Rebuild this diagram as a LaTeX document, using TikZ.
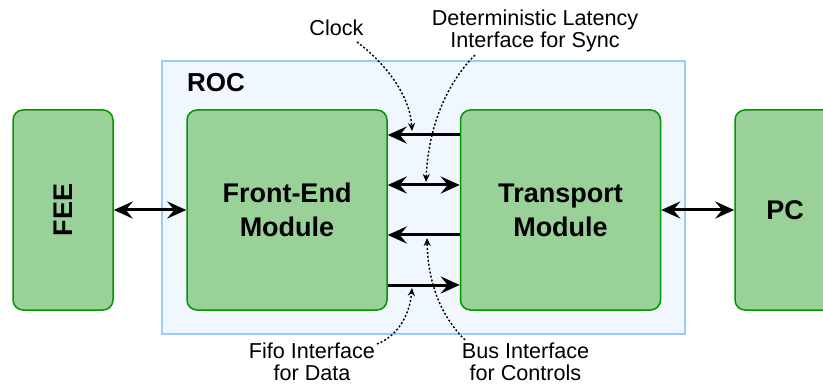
\documentclass[tikz,border=0pt]{standalone}
\usepackage{fontspec}
\setmainfont{Liberation Sans}
\usetikzlibrary{arrows.meta}

\definecolor{boxfill}{RGB}{153,209,153}
\definecolor{boxline}{RGB}{0,150,0}
\definecolor{rocfill}{RGB}{240,247,255}
\definecolor{rocline}{RGB}{153,204,255}

\begin{document}
\begin{tikzpicture}[x=1pt,y=-1pt,
  block/.style={draw=boxline, fill=boxfill, line width=1.5pt, rounded corners=10pt,
    minimum height=200pt, inner sep=0pt, align=center,
    font=\fontsize{27}{34}\selectfont\bfseries},
  module/.style={block, minimum width=200pt},
  endbox/.style={block, minimum width=100pt},
  link/.style={line width=3pt, {Stealth[length=19pt,width=17pt,inset=7pt]}-{Stealth[length=19pt,width=17pt,inset=7pt]}},
  onelink/.style={line width=3pt, -{Stealth[length=19pt,width=17pt,inset=7pt]}},
  note/.style={font=\fontsize{21.6}{22}\selectfont, align=center, inner sep=0pt},
  pointer/.style={line width=1.4pt, dash pattern=on 2pt off 2pt, -{Stealth[length=8pt,width=7pt]}},
]
% page frame
\clip (0,0) rectangle (823,385);
\useasboundingbox (0,0) rectangle (823,385);

% ROC enclosure
\node[draw=rocline, fill=rocfill, line width=1.2pt, minimum width=523pt, minimum height=273pt,
      inner sep=0pt] (roc) at (423.5,197.5) {};
\node[anchor=base west, inner sep=0pt, font=\fontsize{26}{30}\selectfont\bfseries] (roclbl) at (187,92) {ROC};

% blocks
\node[endbox] (fee) at (63,210) {};
\node[rotate=90, inner sep=0pt, font=\fontsize{27}{34}\selectfont\bfseries] (feelbl) at (fee.center) {FEE};
\node[module] (fe) at (287,210) {Front-End\\Module};
\node[module] (tm) at (560.5,210) {Transport\\Module};
\node[endbox] (pc) at (785,210) {PC};

% outer links
\draw[link] (fee.east) -- (fe.west);
\draw[link] (tm.east) -- (pc.west);

% interfaces between the two modules
\draw[onelink] ([yshift=75pt]tm.west) -- ([yshift=75pt]fe.east);
\draw[link]    ([yshift=25pt]fe.east) -- ([yshift=25pt]tm.west);
\draw[onelink] ([yshift=-25pt]tm.west) -- ([yshift=-25pt]fe.east);
\draw[onelink] ([yshift=-75pt]fe.east) -- ([yshift=-75pt]tm.west);

% interface labels (base = baseline of the last line)
\node[note, anchor=base] (clk) at (336.5,35.5) {Clock};
\node[note, anchor=base] (dli) at (535,48) {Deterministic Latency\\Interface for Sync};
\node[note, anchor=base] (fifo) at (312,380) {Fifo Interface\\for Data};
\node[note, anchor=base] (bus) at (525.5,380) {Bus Interface\\for Controls};

% pointers from labels to links
\coordinate (clkS) at (357,42);   \coordinate (clkE) at (412,131);
\coordinate (dliS) at (475,55);   \coordinate (dliE) at (426,182);
\coordinate (fifoS) at (377,344); \coordinate (fifoE) at (412,288);
\coordinate (busS) at (465,340);  \coordinate (busE) at (427,238);
\draw[pointer] (clkS) .. controls (385,63) and (410,95) .. (clkE);
\draw[pointer] (dliS) .. controls (445,85) and (428,130) .. (dliE);
\draw[pointer] (fifoS) .. controls (400,335) and (410,312) .. (fifoE);
\draw[pointer] (busS) .. controls (440,315) and (428,282) .. (busE);
\end{tikzpicture}
\end{document}
